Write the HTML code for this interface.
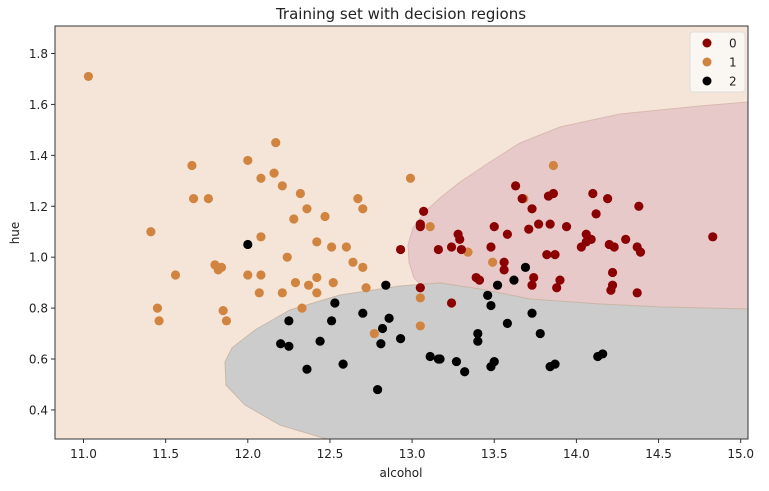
<!DOCTYPE html>
<html><head><meta charset="utf-8"><style>
body{margin:0;background:#fff;font-family:"DejaVu Sans","Liberation Sans",sans-serif;}
svg text{font-family:"DejaVu Sans","Liberation Sans",sans-serif;fill:#222;}
</style></head><body>
<svg id="chart" width="769" height="487" viewBox="0 0 769 487" xmlns="http://www.w3.org/2000/svg">
<defs><clipPath id="clip"><rect x="55" y="26" width="693" height="413"/></clipPath></defs>
<rect x="55" y="26" width="693" height="413" fill="#f5e5d8"/>
<g clip-path="url(#clip)">
<path fill="#e7c9ca" stroke="#d9b9b0" stroke-width="1" d="M748,102 L700,106 L620,114 L560,127 L520,143 L490,162 L460,182 L440,198 L425,212 L413,228 L408,245 L409,262 L414,278 L422,286 L440,283 L480,289 L530,299 L600,304 L660,307 L748,309 Z"/>
<path fill="#cccccc" stroke="#c8b8a8" stroke-width="1" d="M330,440 L280,425 L245,405 L226,385 L225,362 L232,348 L255,330 L290,310 L340,295 L400,286 L440,283 L480,289 L530,299 L600,304 L660,307 L748,309 L748,440 Z"/>
</g>
<g id="points" clip-path="url(#clip)"></g>
<rect x="55" y="26" width="693" height="413" fill="none" stroke="#333" stroke-width="1"/>
<g id="xticks"></g><g id="yticks"></g>
<text x="401" y="19" text-anchor="middle" font-size="15">Training set with decision regions</text>
<text x="401" y="477" text-anchor="middle" font-size="12">alcohol</text>
<text transform="translate(19,233) rotate(-90)" text-anchor="middle" font-size="12">hue</text>
<g>
<rect x="690" y="32" width="55" height="60" rx="3" fill="#fbf7f4" fill-opacity="0.9" stroke="#ddd"/>
<circle cx="707" cy="43" r="4.5" fill="#8b0000"/>
<text x="729" y="47.5" font-size="12">0</text>
<circle cx="707" cy="62" r="4.5" fill="#d0843f"/>
<text x="729" y="66.5" font-size="12">1</text>
<circle cx="707" cy="81" r="4.5" fill="#000"/>
<text x="729" y="85.5" font-size="12">2</text>
</g>
</svg>
<script>
const xTicks=[11.0,11.5,12.0,12.5,13.0,13.5,14.0,14.5,15.0];
const yTicks=[0.4,0.6,0.8,1.0,1.2,1.4,1.6,1.8];
const class0X=[12.93,13.05,13.05,13.07,13.05,13.16,13.24,13.24,13.28,13.29,13.30,13.39,13.41,13.48,13.50,13.56,13.56,13.58,13.63,13.67,13.71,13.73,13.73,13.74,13.77,13.82,13.83,13.84,13.86,13.87,13.88,13.90,13.94,14.03,14.06,14.06,14.09,14.10,14.12,14.19,14.20,14.21,14.22,14.22,14.23,14.30,14.38,14.37,14.39,14.37,14.83];
const class0Y=[1.03,1.13,1.12,1.18,0.88,1.03,1.04,0.82,1.09,1.07,1.03,0.92,0.91,1.04,1.12,0.98,0.95,1.09,1.28,1.23,1.11,1.19,0.89,0.92,1.13,1.01,1.24,1.13,1.25,1.01,0.88,0.91,1.12,1.04,1.06,1.09,1.07,1.25,1.17,1.23,1.05,0.87,0.89,0.94,1.04,1.07,1.20,1.04,1.02,0.86,1.08];
const class1X=[11.03,11.41,11.45,11.46,11.56,11.66,11.67,11.76,11.80,11.82,11.84,11.85,11.87,12.00,12.00,12.08,12.08,12.08,12.07,12.17,12.16,12.21,12.21,12.24,12.28,12.29,12.32,12.33,12.36,12.37,12.42,12.42,12.42,12.47,12.51,12.52,12.60,12.64,12.67,12.70,12.70,12.72,12.77,12.99,13.05,13.05,13.11,13.34,13.49,13.68,13.86];
const class1Y=[1.71,1.10,0.80,0.75,0.93,1.36,1.23,1.23,0.97,0.95,0.96,0.79,0.75,1.38,0.93,1.31,1.08,0.93,0.86,1.45,1.33,1.28,0.86,1.00,1.15,0.90,1.25,0.80,1.19,0.89,1.06,0.92,0.86,1.16,1.04,0.90,1.04,0.98,1.23,1.19,0.96,0.88,0.70,1.31,0.84,0.73,1.12,1.02,0.98,1.23,1.36];
const class2X=[12.00,12.20,12.25,12.25,12.36,12.44,12.51,12.53,12.58,12.70,12.81,12.82,12.84,12.86,12.79,12.93,13.11,13.16,13.17,13.27,13.32,13.40,13.40,13.46,13.48,13.48,13.50,13.52,13.58,13.62,13.69,13.73,13.78,13.84,13.87,14.13,14.16];
const class2Y=[1.05,0.66,0.75,0.65,0.56,0.67,0.75,0.82,0.58,0.78,0.66,0.72,0.89,0.76,0.48,0.68,0.61,0.60,0.60,0.59,0.55,0.70,0.67,0.85,0.81,0.57,0.59,0.89,0.74,0.91,0.96,0.78,0.70,0.57,0.58,0.61,0.62];
const NS='http://www.w3.org/2000/svg';
function sx(v){return 83.5+(v-11)*164.3;}
function sy(v){return 53.5-(v-1.8)*254.6;}
const pts=document.getElementById('points');
function draw(xs,ys,color,cls){
  xs.forEach((x,i)=>{
    const c=document.createElementNS(NS,'circle');
    c.setAttribute('cx',sx(x));c.setAttribute('cy',sy(ys[i]));c.setAttribute('r',4.6);
    c.setAttribute('fill',color);
    
    
    pts.appendChild(c);
  });
}
draw(class1X,class1Y,'#d0843f','1');
draw(class0X,class0Y,'#8b0000','0');
draw(class2X,class2Y,'#000000','2');
const xg=document.getElementById('xticks');
xTicks.forEach(t=>{
  const l=document.createElementNS(NS,'line');
  l.setAttribute('x1',sx(t));l.setAttribute('x2',sx(t));l.setAttribute('y1',439);l.setAttribute('y2',443);l.setAttribute('stroke','#333');
  
  
  xg.appendChild(l);
  const tx=document.createElementNS(NS,'text');
  tx.setAttribute('x',sx(t));tx.setAttribute('y',458);tx.setAttribute('text-anchor','middle');tx.setAttribute('font-size','12');
  tx.textContent=t.toFixed(1);
  
  
  xg.appendChild(tx);
});
const yg=document.getElementById('yticks');
yTicks.forEach(t=>{
  const l=document.createElementNS(NS,'line');
  l.setAttribute('x1',51);l.setAttribute('x2',55);l.setAttribute('y1',sy(t));l.setAttribute('y2',sy(t));l.setAttribute('stroke','#333');
  
  
  yg.appendChild(l);
  const tx=document.createElementNS(NS,'text');
  tx.setAttribute('x',48);tx.setAttribute('y',sy(t)+4.5);tx.setAttribute('text-anchor','end');tx.setAttribute('font-size','12');
  tx.textContent=t.toFixed(1);
  
  
  yg.appendChild(tx);
});
</script>
</body></html>
